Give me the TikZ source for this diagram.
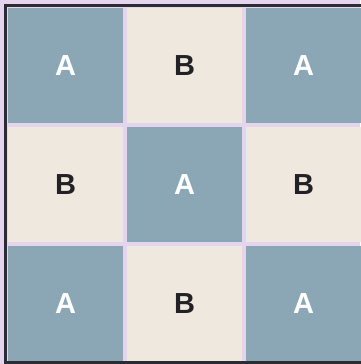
\documentclass[tikz,border=0pt]{standalone}
\usepackage{fontspec}
\setmainfont{Liberation Sans}
\usetikzlibrary{positioning}
\definecolor{slate}{HTML}{8BA6B5}
\definecolor{sand}{HTML}{EFE8DE}
\definecolor{lilac}{HTML}{E4D4EE}
\definecolor{ink}{HTML}{222226}
\definecolor{frame}{HTML}{2B2B33}

\begin{document}
\begin{tikzpicture}[x=1pt,y=-1pt,
  tile/.style={minimum size=115pt,inner sep=0pt,font=\fontsize{29}{29}\selectfont\bfseries},
  tileA/.style={tile,fill=slate,text=white},
  tileB/.style={tile,fill=sand,text=ink}]
\useasboundingbox (0,0) rectangle (360,364);
\fill[lilac] (0,0) rectangle (360,364);
% checker board of A and B
\foreach \r in {0,1,2} {
  \foreach \c in {0,1,2} {
    \pgfmathtruncatemacro\p{mod(\r+\c,2)}
    \ifnum\p=0
      \node[tileA] (t\r\c) at (65.5+119*\c,65.5+119*\r) {A};
    \else
      \node[tileB] (t\r\c) at (65.5+119*\c,65.5+119*\r) {B};
    \fi
  }
}
\draw[frame,line width=3pt] (5.5,5.5) rectangle (363,362.5);
\end{tikzpicture}
\end{document}
